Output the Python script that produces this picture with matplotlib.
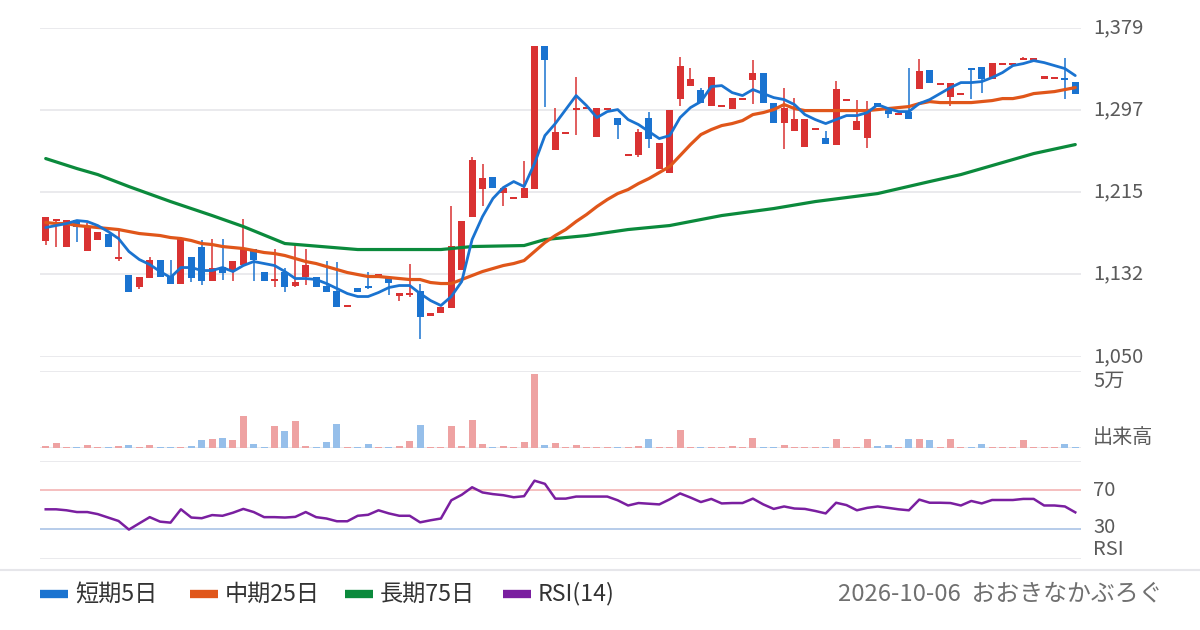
import numpy as np
import matplotlib
matplotlib.use("Agg")
import matplotlib.pyplot as plt
from matplotlib.lines import Line2D
from matplotlib.transforms import blended_transform_factory

plt.rcParams['font.family'] = ['Noto Sans CJK JP', 'DejaVu Sans']

# daily candles (oldest -> newest)
opens = [1166, 1186, 1160, 1187, 1156, 1167, 1173, 1148, 1132, 1120,
         1129, 1147, 1131, 1123, 1150, 1160, 1126, 1140, 1136, 1142,
         1158, 1135, 1126, 1135, 1121, 1130, 1130, 1121, 1116, 1100,
         1119, 1121, 1130, 1129, 1111, 1112, 1116, 1091, 1094, 1099,
         1137, 1190, 1218, 1230, 1214, 1208, 1209, 1218, 1361, 1257,
         1273, 1297, 1298, 1270, 1297, 1289, 1251, 1252, 1289, 1238,
         1234, 1308, 1321, 1317, 1301, 1300, 1298, 1307, 1327, 1334,
         1304, 1284, 1276, 1260, 1277, 1269, 1262, 1306, 1277, 1269,
         1304, 1300, 1292, 1295, 1318, 1337, 1322, 1310, 1312, 1339,
         1340, 1328, 1342, 1342, 1347, 1347, 1328, 1328, 1329, 1325]
highs = [1190, 1188, 1187, 1187, 1184, 1175, 1173, 1177, 1132, 1130,
         1150, 1147, 1147, 1168, 1150, 1167, 1168, 1168, 1146, 1188,
         1158, 1135, 1158, 1139, 1162, 1158, 1130, 1146, 1145, 1102,
         1119, 1135, 1133, 1129, 1114, 1143, 1123, 1094, 1100, 1201,
         1186, 1250, 1243, 1230, 1219, 1210, 1246, 1361, 1361, 1299,
         1275, 1330, 1299, 1299, 1298, 1289, 1252, 1278, 1295, 1264,
         1297, 1350, 1339, 1319, 1330, 1302, 1309, 1309, 1347, 1334,
         1304, 1319, 1309, 1288, 1279, 1276, 1326, 1308, 1307, 1306,
         1304, 1300, 1293, 1339, 1348, 1337, 1324, 1324, 1314, 1339,
         1340, 1344, 1344, 1344, 1350, 1349, 1331, 1330, 1349, 1325]
lows = [1162, 1160, 1160, 1165, 1156, 1167, 1160, 1146, 1115, 1118,
        1129, 1130, 1123, 1123, 1125, 1122, 1126, 1127, 1126, 1142,
        1126, 1126, 1120, 1115, 1120, 1122, 1120, 1115, 1100, 1100,
        1115, 1118, 1130, 1112, 1106, 1110, 1068, 1091, 1094, 1099,
        1137, 1190, 1201, 1219, 1201, 1208, 1209, 1218, 1300, 1257,
        1273, 1272, 1298, 1270, 1297, 1268, 1251, 1250, 1259, 1238,
        1234, 1301, 1321, 1304, 1301, 1300, 1298, 1307, 1303, 1304,
        1284, 1258, 1276, 1260, 1277, 1263, 1262, 1306, 1277, 1259,
        1300, 1289, 1292, 1288, 1318, 1324, 1322, 1301, 1312, 1308,
        1314, 1328, 1342, 1342, 1347, 1347, 1328, 1328, 1308, 1313]
closes = [1190, 1188, 1187, 1180, 1180, 1175, 1160, 1150, 1115, 1130,
          1147, 1130, 1123, 1168, 1129, 1126, 1139, 1134, 1146, 1158,
          1147, 1126, 1128, 1120, 1125, 1142, 1120, 1115, 1100, 1102,
          1115, 1119, 1133, 1124, 1114, 1114, 1090, 1094, 1100, 1161,
          1186, 1247, 1229, 1219, 1219, 1210, 1219, 1361, 1347, 1275,
          1275, 1299, 1299, 1299, 1298, 1282, 1252, 1275, 1268, 1264,
          1297, 1341, 1328, 1304, 1330, 1302, 1309, 1309, 1334, 1304,
          1284, 1299, 1288, 1288, 1279, 1263, 1318, 1308, 1286, 1296,
          1300, 1293, 1293, 1288, 1336, 1324, 1324, 1324, 1314, 1337,
          1328, 1344, 1344, 1344, 1349, 1349, 1331, 1330, 1327, 1313]
volumes = [1320, 3300, 660, 660, 1980, 660, 660, 1320, 1980, 660,
           1980, 660, 660, 660, 1320, 5290, 5950, 6610, 5290, 20490,
           2640, 660, 13880, 11240, 17180, 1320, 660, 3970, 15200, 660,
           660, 2640, 660, 660, 1320, 4630, 14540, 660, 660, 13880,
           1320, 17840, 2640, 660, 1320, 660, 3970, 47580, 1980, 3300,
           660, 1980, 660, 660, 660, 660, 660, 1320, 5950, 660,
           660, 11900, 660, 660, 660, 660, 1320, 660, 6610, 660,
           660, 1980, 660, 660, 660, 660, 5950, 660, 660, 5950,
           1320, 1980, 660, 5950, 5950, 5290, 660, 5950, 660, 660,
           2640, 660, 660, 660, 5290, 660, 660, 660, 2640, 660]

ma5 = [1179, 1181, 1183, 1186, 1185, 1181, 1175, 1168, 1155, 1147,
       1142, 1135, 1129, 1139, 1139, 1136, 1136, 1139, 1135, 1141,
       1145, 1143, 1141, 1135, 1128, 1128, 1127, 1123, 1118, 1113,
       1110, 1110, 1114, 1119, 1121, 1121, 1113, 1106, 1101, 1110,
       1125, 1167, 1190, 1208, 1219, 1225, 1220, 1243, 1271, 1283,
       1297, 1311, 1301, 1289, 1295, 1297, 1287, 1282, 1275, 1268,
       1271, 1289, 1299, 1305, 1320, 1321, 1314, 1311, 1317, 1313,
       1309, 1307, 1302, 1292, 1287, 1283, 1287, 1291, 1291, 1294,
       1302, 1298, 1295, 1295, 1303, 1307, 1313, 1319, 1324, 1324,
       1325, 1329, 1334, 1341, 1343, 1346, 1344, 1341, 1338, 1331]
ma25 = [1184, 1183, 1183, 1181, 1180, 1179, 1178, 1177, 1175, 1173,
        1172, 1171, 1169, 1168, 1166, 1163, 1162, 1160, 1159, 1158,
        1156, 1154, 1153, 1151, 1148, 1145, 1143, 1140, 1137, 1134,
        1132, 1130, 1130, 1129, 1128, 1127, 1127, 1124, 1123, 1123,
        1127, 1131, 1135, 1138, 1141, 1143, 1146, 1155, 1164, 1171,
        1177, 1185, 1192, 1200, 1207, 1213, 1217, 1223, 1228, 1234,
        1240, 1251, 1262, 1272, 1277, 1281, 1283, 1286, 1292, 1294,
        1297, 1302, 1298, 1296, 1296, 1296, 1296, 1296, 1296, 1296,
        1297, 1298, 1299, 1300, 1303, 1305, 1304, 1304, 1304, 1304,
        1305, 1306, 1308, 1308, 1310, 1313, 1314, 1315, 1317, 1319]
ma75_day = [0, 3, 5, 8, 12, 16, 19, 23, 30, 38, 41, 46, 48, 52, 56,
            60, 63, 65, 70, 74, 80, 85, 88, 91, 95, 99]
ma75 = [1248, 1238, 1232, 1220, 1205, 1191, 1180, 1163, 1157, 1157, 1160,
        1161, 1167, 1171, 1177, 1181, 1187, 1191, 1198, 1205, 1213, 1225,
        1232, 1241, 1253, 1262]
rsi = [50.3, 50.3, 49.3, 47.5, 47.5, 45.4, 41.9, 38.4, 29.6, 36.0,
       42.3, 37.7, 36.7, 50.3, 41.9, 41.2, 44.4, 43.7, 46.8, 50.7,
       47.5, 42.3, 42.3, 41.9, 42.6, 47.5, 42.3, 40.9, 38.1, 38.1,
       43.7, 44.7, 49.3, 46.1, 43.7, 43.7, 37.0, 39.1, 40.9, 59.5,
       65.1, 72.8, 67.5, 65.8, 64.7, 62.6, 63.7, 79.5, 76.3, 61.2,
       61.2, 63.3, 63.3, 63.3, 63.3, 59.5, 54.2, 56.7, 56.0, 55.3,
       60.5, 66.5, 62.3, 57.7, 60.9, 56.3, 56.7, 56.7, 61.2, 55.3,
       50.7, 53.2, 51.1, 50.7, 48.6, 46.1, 57.0, 54.6, 49.3, 51.8,
       53.2, 51.8, 50.3, 49.3, 60.2, 57.0, 57.0, 56.7, 54.2, 58.8,
       56.3, 59.8, 59.8, 59.8, 60.9, 60.9, 54.2, 54.2, 53.2, 47.2]

price_ticks = [1050, 1132.25, 1214.5, 1296.75, 1379]
price_labels = ['1,050', '1,132', '1,215', '1,297', '1,379']
legend_labels = ['短期5日', '中期25日', '長期75日', 'RSI(14)']
date_text = '2026-10-06  おおきなかぶろぐ'

UP, DOWN = '#d93232', '#1a73d0'
UP_L, DOWN_L = '#eea2a2', '#96bfea'
C5, C25, C75, CRSI = '#1a73d0', '#e0561a', '#0b8a3c', '#7a1fa0'
GRID = '#e6e6ea'
LABEL = '#5a5a5a'

W, H = 1200, 630


def box(left, top, right, bottom):
    return [left / W, 1 - bottom / H, (right - left) / W, (bottom - top) / H]


def clean(ax):
    for s in ax.spines.values():
        s.set_visible(False)
    ax.set_xticks([])
    ax.set_yticks([])
    ax.set_xlim(-0.55, 99.55)


def side_label(ax, y, text, va='center'):
    tr = blended_transform_factory(ax.transAxes, ax.transData)
    ax.text(1.0115, y, text, transform=tr, ha='left', va=va,
            fontsize=14.5, color=LABEL)


fig = plt.figure(figsize=(12, 6.3), dpi=100)

o = np.array(opens, float)
c = np.array(closes, float)
x = np.arange(len(o))
up = c > o
cols = np.where(up, UP, DOWN)
vcols = np.where(up, UP_L, DOWN_L)

# price panel
ax_p = fig.add_axes(box(40, 27.6, 1081, 356.5))
clean(ax_p)
ax_p.set_ylim(1050, 1379)
for t in price_ticks:
    ax_p.axhline(t, color=GRID, lw=1.2, zorder=0)
ax_p.vlines(x, lows, highs, colors=cols, lw=1.1, zorder=2)
body_lo = np.minimum(o, c)
body_h = np.maximum(np.abs(c - o), 1.8)
ax_p.bar(x, body_h, bottom=body_lo, width=0.66, color=cols, zorder=3)
ax_p.plot(ma75_day, ma75, color=C75, lw=2.3, zorder=4, solid_capstyle='round')
ax_p.plot(x, ma25, color=C25, lw=2.3, zorder=5, solid_capstyle='round')
ax_p.plot(x, ma5, color=C5, lw=2.0, zorder=6, solid_capstyle='round')
for t, lab in zip(price_ticks, price_labels):
    side_label(ax_p, t, lab)

# volume panel
ax_v = fig.add_axes(box(40, 370.5, 1081, 448))
clean(ax_v)
ax_v.set_ylim(0, 50000)
ax_v.axhline(50000, color=GRID, lw=1.2, zorder=0)
ax_v.axhline(0, color=GRID, lw=1.2, zorder=0)
ax_v.bar(x, volumes, width=0.66, color=vcols, zorder=2)
side_label(ax_v, 50000, '5万', va='top')
side_label(ax_v, 0, '出来高', va='bottom')

# rsi panel
ax_r = fig.add_axes(box(40, 460.6, 1081, 558.6))
clean(ax_r)
ax_r.set_ylim(0, 100)
ax_r.axhline(100, color=GRID, lw=1.2, zorder=0)
ax_r.axhline(0, color=GRID, lw=1.2, zorder=0)
ax_r.axhline(70, color='#f4b4b4', lw=1.2, zorder=1)
ax_r.axhline(30, color='#aac3e6', lw=1.2, zorder=1)
ax_r.plot(x, rsi, color=CRSI, lw=1.8, zorder=3)
side_label(ax_r, 70, '70')
side_label(ax_r, 32, '30')
side_label(ax_r, 9, 'RSI')

# footer: separator, legend entries, date/credit
fig.add_artist(Line2D([0, 1], [1 - 570 / H, 1 - 570 / H], color=GRID, lw=1.5))
legend_y = 1 - 594 / H
for px, col, lab in zip([40, 190, 345, 503], (C5, C25, C75, CRSI), legend_labels):
    fig.add_artist(Line2D([px / W, (px + 28) / W], [legend_y, legend_y],
                          color=col, lw=6, solid_capstyle='butt'))
    fig.text((px + 35) / W, legend_y, lab, ha='left', va='center',
             fontsize=16.7, color='#333333')
fig.text(1162 / W, legend_y, date_text, ha='right', va='center',
         fontsize=17.2, color='#707070')

fig.savefig('out.png', dpi=100)
